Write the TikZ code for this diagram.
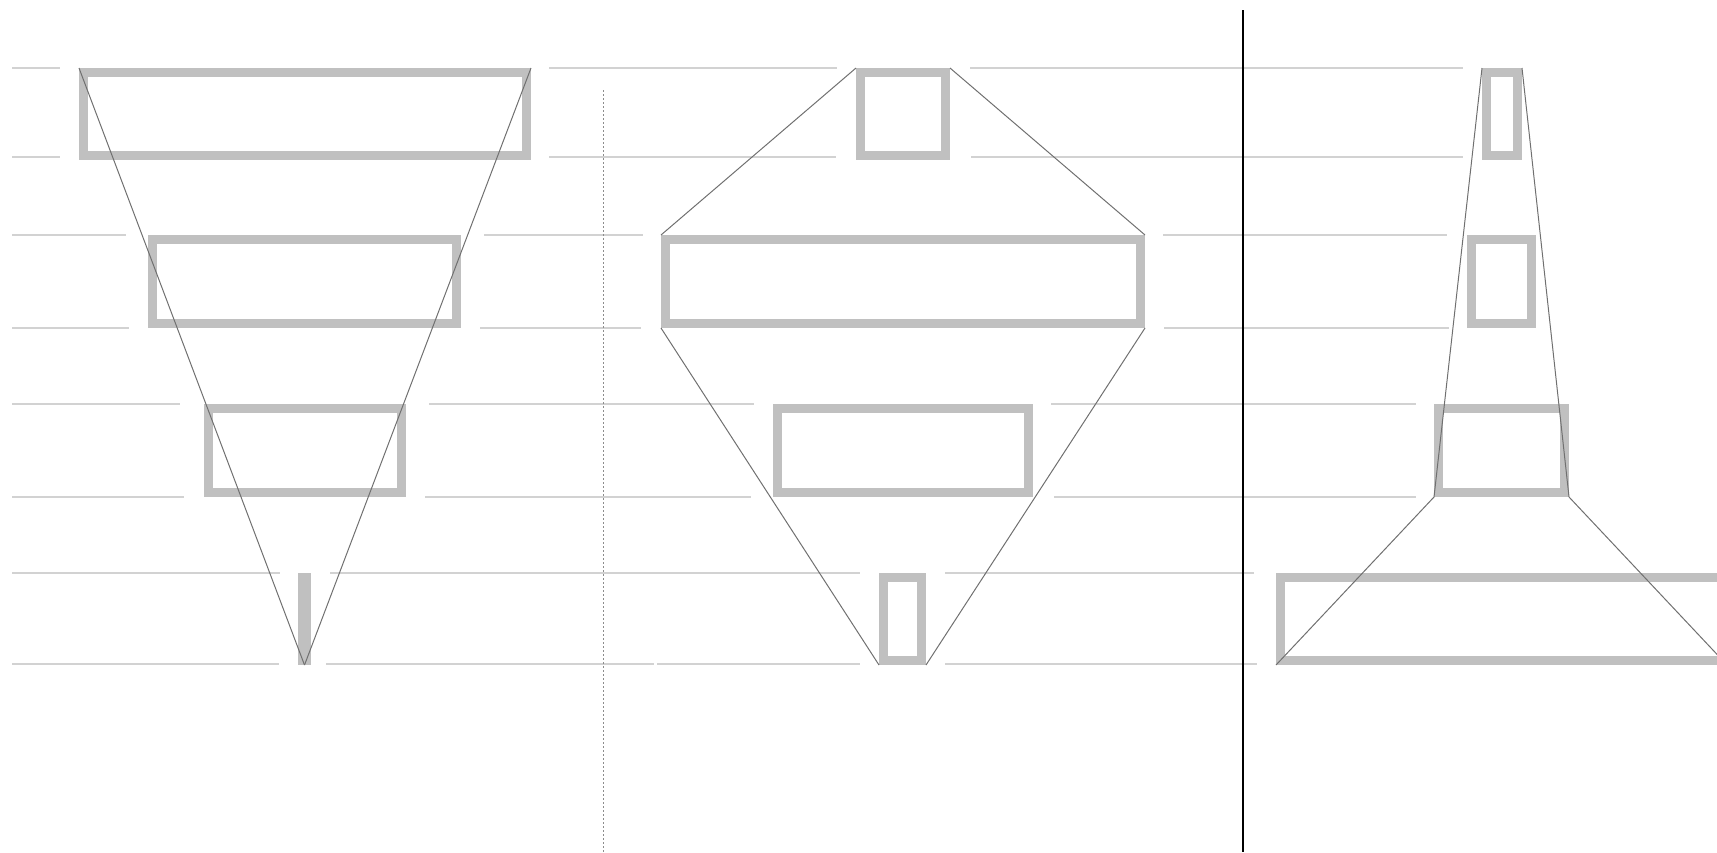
\documentclass[tikz,border=0pt]{standalone}
\definecolor{boxgray}{HTML}{C0C0C0}
\definecolor{rulegray}{HTML}{D2D2D2}
\definecolor{linkgray}{HTML}{707070}
\definecolor{dotgray}{HTML}{8C8C8C}
\tikzset{
  pbox/.style={draw=boxgray, line width=4.5pt, inner sep=0pt, outer sep=2.25pt, rectangle},
  rule/.style={draw=rulegray, line width=0.8pt},
  link/.style={draw=linkgray, line width=0.5pt},
}
\newcommand\mybox[5]{\node[pbox, minimum width={(#4-#2-9)*0.5pt}, minimum height={(#5-#3-9)*0.5pt}] (#1) at ({(#2+#4)/2},{(#3+#5)/2}) {};}
\newcommand\guide[3]{\draw[rule] (#2,#1) -- (#3,#1);}
\begin{document}
\begin{tikzpicture}[x=0.5pt,y=-0.5pt]
\useasboundingbox (0,0) rectangle (1717,852);
\clip (0,0) rectangle (1717,852);
% horizontal guide lines
\guide{68}{12}{60}\guide{68}{549}{837}\guide{68}{970}{1463}
\guide{157}{12}{60}\guide{157}{549}{836}\guide{157}{971}{1463}
\guide{235}{12}{126}\guide{235}{484}{643}\guide{235}{1163}{1447}
\guide{328}{12}{129}\guide{328}{480}{641}\guide{328}{1164}{1449}
\guide{404}{12}{180}\guide{404}{429}{754}\guide{404}{1051}{1416}
\guide{497}{12}{184}\guide{497}{425}{751}\guide{497}{1054}{1416}
\guide{573}{12}{280}\guide{573}{330}{860}\guide{573}{945}{1254}
\guide{664}{12}{279}\guide{664}{326}{654}\guide{664}{657}{860}\guide{664}{945}{1257}
% separators
\draw[dotgray, line width=0.5pt, dash pattern=on 1pt off 1pt] (603,90) -- (603,852);
\draw[black, line width=1pt] (1243,10) -- (1243,852);
% panel 1
\mybox{a1}{79}{68}{531}{160}
\mybox{a2}{148}{235}{461}{328}
\mybox{a3}{204}{404}{406}{497}
\mybox{a4}{298}{573}{311}{665}
% panel 2
\mybox{b1}{856}{68}{950}{160}
\mybox{b2}{661}{235}{1145}{328}
\mybox{b3}{773}{404}{1033}{497}
\mybox{b4}{879}{573}{926}{665}
% panel 3
\mybox{c1}{1482}{68}{1522}{160}
\mybox{c2}{1467}{235}{1536}{328}
\mybox{c3}{1434}{404}{1569}{497}
\mybox{c4}{1276}{573}{1727}{665}
% connectors
\draw[link] (a1.north west) -- (a4.south);
\draw[link] (a1.north east) -- (a4.south);
\draw[link] (b1.north west) -- (b2.north west);
\draw[link] (b1.north east) -- (b2.north east);
\draw[link] (b2.south west) -- (b4.south west);
\draw[link] (b2.south east) -- (b4.south east);
\draw[link] (c1.north west) -- (c3.south west);
\draw[link] (c1.north east) -- (c3.south east);
\draw[link] (c3.south west) -- (c4.south west);
\draw[link] (c3.south east) -- (c4.south east);
\end{tikzpicture}
\end{document}
